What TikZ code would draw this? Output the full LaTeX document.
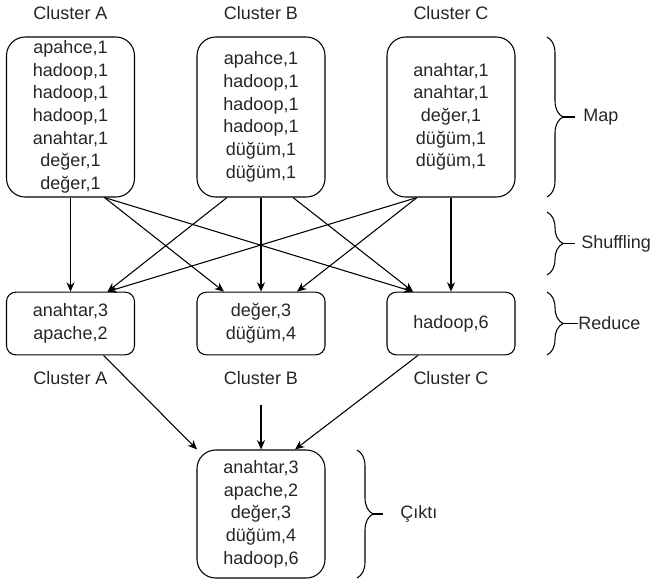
\documentclass[tikz,border=0pt]{standalone}
\usepackage{fontspec}
\setmainfont{Liberation Sans}
\usetikzlibrary{arrows.meta,positioning,calc,decorations.pathreplacing}

\begin{document}
\begin{tikzpicture}[x=0.75pt,y=-0.75pt,
      every node/.style={font=\fontsize{13.5}{17}\selectfont,text=black!85},
      mapbox/.style={draw,rounded corners=14pt,line width=0.8pt,align=center,
        minimum width=96pt,minimum height=120pt,inner sep=0pt},
      redbox/.style={mapbox,rounded corners=7pt,minimum height=47pt},
      outbox/.style={mapbox,minimum height=96pt},
      side/.style={anchor=west,inner sep=0pt},
      arr/.style={-{Stealth[length=7pt,width=6pt]},line width=0.8pt},
      curly/.style={decorate,decoration={brace,amplitude=12pt},line width=0.8pt}]
      \useasboundingbox (0,0) rectangle (655,579);
      % map stage
      \node (topA) at (70.5,13) {Cluster A};
      \node (topB) at (261,13) {Cluster B};
      \node (topC) at (451,13) {Cluster C};
      \node[mapbox] (mA) at (70.5,117)
        {apahce,1\\hadoop,1\\hadoop,1\\hadoop,1\\anahtar,1\\değer,1\\değer,1};
      \node[mapbox] (mB) at (261,117)
        {apahce,1\\hadoop,1\\hadoop,1\\hadoop,1\\düğüm,1\\düğüm,1};
      \node[mapbox] (mC) at (451,117)
        {anahtar,1\\anahtar,1\\değer,1\\düğüm,1\\düğüm,1};
      % reduce stage
      \node[redbox] (rA) at (70.5,323.5) {anahtar,3\\apache,2};
      \node[redbox] (rB) at (261,323.5) {değer,3\\düğüm,4};
      \node[redbox] (rC) at (451,323.5) {hadoop,6};
      \node (botA) at (70.5,378) {Cluster A};
      \node (botB) at (261,378) {Cluster B};
      \node (botC) at (451,378) {Cluster C};
      \node[outbox] (out) at (261,514)
        {anahtar,3\\apache,2\\değer,3\\düğüm,4\\hadoop,6};
      % brace labels
      \node[side] (map) at (583,117) {Map};
      \node[side] (shuf) at (581,243.5) {Shuffling};
      \node[side] (red) at (578,323.5) {Reduce};
      \node[side] (cikti) at (400,514) {Çıktı};
      \draw[curly] (547,37) -- (547,197);
      \draw[line width=0.8pt] (563,117) -- (575,117);
      \draw[curly] (547,212) -- (547,275);
      \draw[line width=0.8pt] (563,243.5) -- (575,243.5);
      \draw[curly] (547,292) -- (547,355);
      \draw[line width=0.8pt] (563,323.5) -- (red.west);
      \draw[curly] (357,450) -- (357,578);
      \draw[line width=0.8pt] (373,514) -- (383,514);
      % shuffling
      \draw[arr] (mA) -- (rA);
      \draw[arr] ($(mA.south)+(34,0)$) -- ($(rB.north)+(-37,0)$);
      \draw[arr] ($(mA.south)+(34,0)$) -- ($(rC.north)+(-38,0)$);
      \draw[arr] ($(mB.south)+(-34,0)$) -- ($(rA.north)+(37,0)$);
      \draw[arr] (mB) -- (rB);
      \draw[arr] ($(mB.south)+(32,0)$) -- ($(rC.north)+(-38,0)$);
      \draw[arr] ($(mC.south)+(-34,0)$) -- ($(rA.north)+(37,0)$);
      \draw[arr] ($(mC.south)+(-34,0)$) -- ($(rB.north)+(36,0)$);
      \draw[arr] (mC) -- (rC);
      % to the output
      \coordinate (inB) at (261,405);
      \draw[arr] ($(rA.south)+(33,0)$) -- ($(out.north)+(-64,0)$);
      \draw[arr] (inB) -- (out);
      \draw[arr] ($(rC.south)+(-33,0)$) -- ($(out.north)+(34,0)$);
    \end{tikzpicture}
\end{document}
